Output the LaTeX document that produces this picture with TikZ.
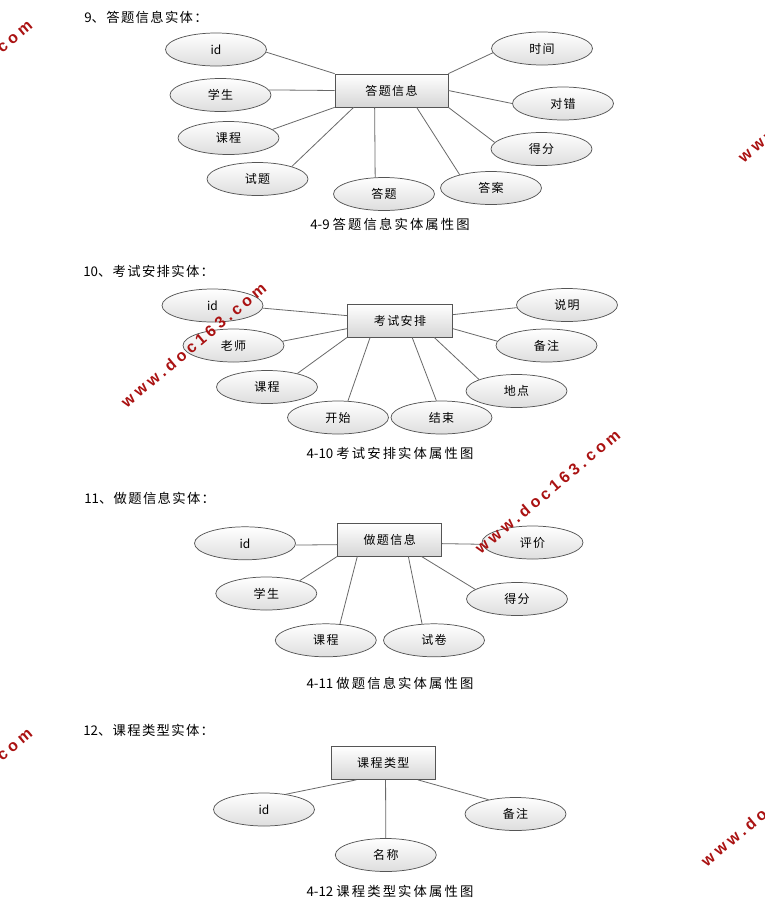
\documentclass[tikz,border=0pt]{standalone}
\usepackage{fontspec}
\setmainfont{Noto Sans CJK SC}
\newfontfamily\cjkA[LetterSpace=12]{Noto Sans CJK SC}
\newfontfamily\cjkB[LetterSpace=16]{Noto Sans CJK SC}
\newfontfamily\cjkC[LetterSpace=10]{Noto Sans CJK SC}
\newfontfamily\cjkP{Noto Sans CJK SC}
\newfontfamily\wmfont[LetterSpace=24]{Liberation Sans}
\usetikzlibrary{shapes.geometric}
\definecolor{wmred}{RGB}{170,18,18}
\definecolor{edgegray}{RGB}{85,85,85}
\definecolor{linegray}{RGB}{105,105,105}
\tikzset{
  attr/.style={ellipse, draw=edgegray, line width=0.55pt, top color=white, bottom color=black!13,
    minimum width=75.75pt, minimum height=24.75pt, inner sep=0pt,
    font=\cjkA\fontsize{9}{10}\selectfont},
  ent/.style={rectangle, draw=edgegray, line width=0.55pt, top color=white, bottom color=black!16,
    minimum height=24.75pt, inner sep=0pt, font=\cjkA\fontsize{9}{10}\selectfont},
  con/.style={draw=linegray, line width=0.6pt},
  ttl/.style={anchor=west, inner sep=0pt, font=\cjkC\fontsize{10}{12}\selectfont},
  captext/.style={anchor=center, inner sep=0pt, font=\cjkB\fontsize{10}{12}\selectfont},
  wm/.style={rotate=40, inner sep=0pt, text=wmred, font=\wmfont\bfseries\fontsize{12}{14}\selectfont}
}
\begin{document}
\begin{tikzpicture}[x=0.75pt,y=-0.75pt]
\useasboundingbox (0,0) rectangle (765,908);
\clip (0,0) rectangle (765,908);
\fill[white] (0,0) rectangle (765,908);

% ---------- Section 9 ----------
\node[ttl] (t1) at (84,17) {{\cjkP 9}、答题信息实体：};
\node[ent, minimum width=84.75pt] (b1) at (391.5,90.5) {答题信息};
\node[attr] (a1) at (216,49.5) {\cjkP id};
\node[attr] (a2) at (220.5,95) {学生};
\node[attr] (a3) at (228.5,138) {课程};
\node[attr] (a4) at (257.5,179) {试题};
\node[attr] (a5) at (384,194) {答题};
\node[attr] (a6) at (491,188) {答案};
\node[attr] (a7) at (541.5,149) {得分};
\node[attr] (a8) at (563,103.5) {对错};
\node[attr] (a9) at (542,48.5) {时间};
\draw[con] (b1.north west) -- (a1.357);
\draw[con] (b1.west) -- (a2.6);
\draw[con] (b1.south west) -- (a3.11);
\draw[con] (b1.south west) ++(19,0) -- (a4.20);
\draw[con] (b1.south west) ++(40,0) -- (a5.118);
\draw[con] (b1.south west) ++(82,0) -- (a6.157);
\draw[con] (b1.south east) -- (a7.172);
\draw[con] (b1.east) -- (a8.180);
\draw[con] (b1.north east) -- (a9.185);
\node[captext] (c1) at (390,224) {{\cjkP 4-9 }答题信息实体属性图};

% ---------- Section 10 ----------
\node[ttl] (t2) at (83,271) {{\cjkP 10}、考试安排实体：};
\node[ent, minimum width=78.75pt] (b2) at (400,320.5) {考试安排};
\node[attr] (k1) at (212.5,305.5) {\cjkP id};
\node[attr] (k2) at (233.5,345.5) {老师};
\node[attr] (k3) at (267,387) {课程};
\node[attr] (k4) at (338,417.5) {开始};
\node[attr] (k5) at (441.5,417.5) {结束};
\node[attr] (k6) at (516.5,391) {地点};
\node[attr] (k7) at (546.5,345.5) {备注};
\node[attr] (k8) at (567,305) {说明};
\draw[con] (b2.north west) ++(0,12) -- (k1.357);
\draw[con] (b2.north west) ++(0,25) -- (k2.5);
\draw[con] (b2.south west) -- (k3.24);
\draw[con] (b2.south west) ++(23,0) -- (k4.59);
\draw[con] (b2.south west) ++(65,0) -- (k5.107);
\draw[con] (b2.south west) ++(87,0) -- (k6.163);
\draw[con] (b2.north east) ++(0,25) -- (k7.175);
\draw[con] (b2.north east) ++(0,11) -- (k8.183);
\node[captext] (c2) at (390,453) {{\cjkP 4-10 }考试安排实体属性图};

% ---------- Section 11 ----------
\node[ttl] (t3) at (84,498) {{\cjkP 11}、做题信息实体：};
\node[ent, minimum width=78pt] (b3) at (389.7,539.5) {做题信息};
\node[attr] (d1) at (245,543.3) {\cjkP id};
\node[attr] (d2) at (266.3,593.5) {学生};
\node[attr] (d3) at (325.8,640.3) {课程};
\node[attr] (d4) at (434,640.3) {试卷};
\node[attr] (d5) at (517,599) {得分};
\node[attr] (d6) at (532.5,542.5) {评价};
\draw[con] (b3.north west) ++(0,22) -- (d1.358);
\draw[con] (b3.south west) -- (d2.21);
\draw[con] (b3.south west) ++(20,0) -- (d3.49);
\draw[con] (b3.south west) ++(71,0) -- (d4.126);
\draw[con] (b3.south west) ++(84,0) -- (d5.167);
\draw[con] (b3.north east) ++(0,21) -- (d6.182);
\node[captext] (c3) at (390,683) {{\cjkP 4-11 }做题信息实体属性图};

% ---------- Section 12 ----------
\node[ttl] (t4) at (83,730) {{\cjkP 12}、课程类型实体：};
\node[ent, minimum width=77.5pt] (b4) at (383.3,763) {课程类型};
\node[attr] (e1) at (264,809.5) {\cjkP id};
\node[attr] (e2) at (385.8,855) {名称};
\node[attr] (e3) at (515.5,814) {备注};
\draw[con] (b4.south west) ++(25,0) -- (e1.35);
\draw[con] (b4.south west) ++(54.3,0) -- (e2.north);
\draw[con] (b4.south west) ++(86.7,0) -- (e3.152);
\node[captext] (c4) at (390,891) {{\cjkP 4-12 }课程类型实体属性图};

% ---------- watermarks ----------
\node[wm] (w1) at (-40.5,82) {www.doc163.com};
\node[wm] (w2) at (810.5,100) {www.doc163.com};
\node[wm] (w3) at (193.5,345) {www.doc163.com};
\node[wm] (w4) at (547.5,491.5) {www.doc163.com};
\node[wm] (w5) at (-40.5,790) {www.doc163.com};
\node[wm] (w6) at (773.5,804) {www.doc163.com};
\end{tikzpicture}
\end{document}
